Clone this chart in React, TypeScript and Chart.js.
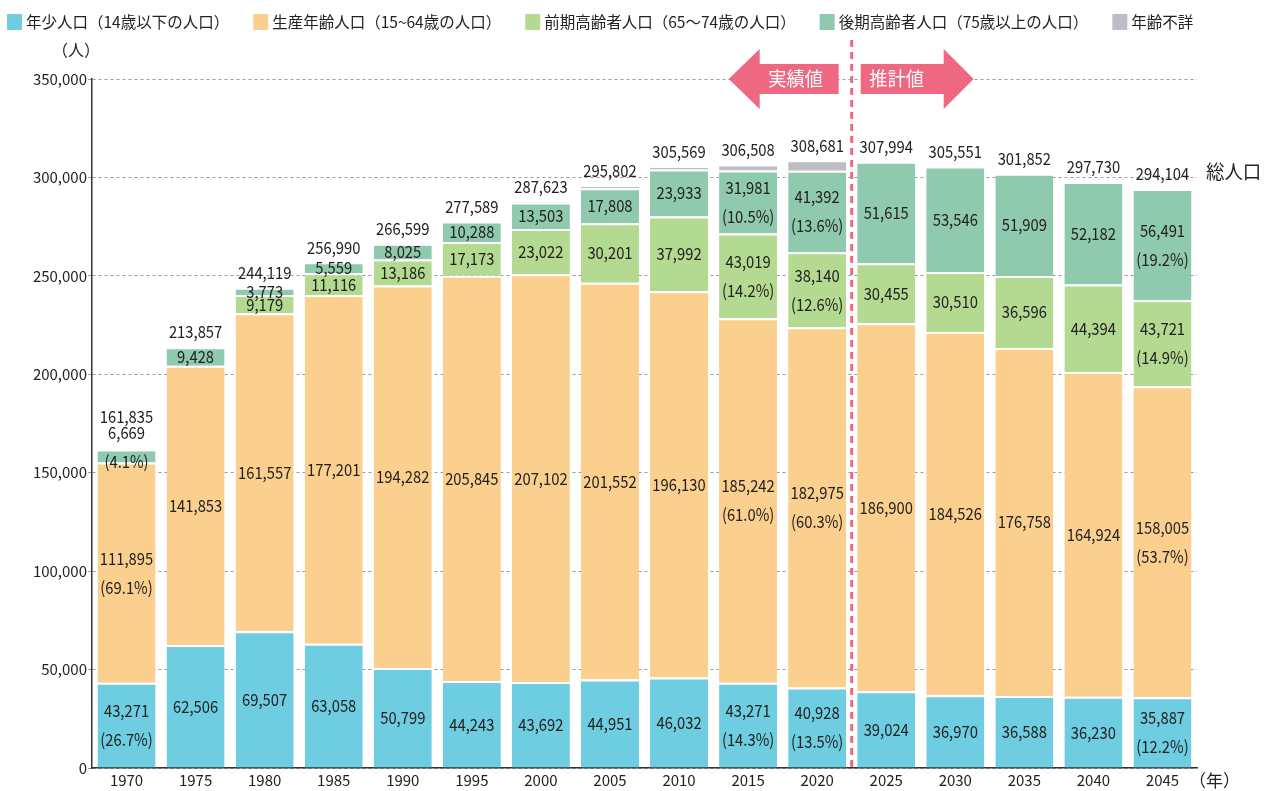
import { useEffect, useRef } from 'react';
import { Chart, registerables } from 'chart.js';

Chart.register(...registerables);

const years = ['1970', '1975', '1980', '1985', '1990', '1995', '2000', '2005', '2010', '2015', '2020', '2025', '2030', '2035', '2040', '2045'];
const young = [43271, 62506, 69507, 63058, 50799, 44243, 43692, 44951, 46032, 43271, 40928, 39024, 36970, 36588, 36230, 35887];
const working = [111895, 141853, 161557, 177201, 194282, 205845, 207102, 201552, 196130, 185242, 182975, 186900, 184526, 176758, 164924, 158005];
const earlyElderly = [0, 0, 9179, 11116, 13186, 17173, 23022, 30201, 37992, 43019, 38140, 30455, 30510, 36596, 44394, 43721];
const lateElderly = [6669, 9428, 3773, 5559, 8025, 10288, 13503, 17808, 23933, 31981, 41392, 51615, 53546, 51909, 52182, 56491];
const unknownAge = [0, 70, 103, 56, 307, 40, 304, 1290, 1482, 2995, 5246, 0, 0, 0, 0, 0];
const totals = [161835, 213857, 244119, 256990, 266599, 277589, 287623, 295802, 305569, 306508, 308681, 307994, 305551, 301852, 297730, 294104];

const youngPct = ['26.7%', null, null, null, null, null, null, null, null, '14.3%', '13.5%', null, null, null, null, '12.2%'];
const workingPct = ['69.1%', null, null, null, null, null, null, null, null, '61.0%', '60.3%', null, null, null, null, '53.7%'];
const earlyPct = [null, null, null, null, null, null, null, null, null, '14.2%', '12.6%', null, null, null, null, '14.9%'];
const latePct = ['4.1%', null, null, null, null, null, null, null, null, '10.5%', '13.6%', null, null, null, null, '19.2%'];

const seriesNames = [
  '年少人口（14歳以下の人口）',
  '生産年齢人口（15~64歳の人口）',
  '前期高齢者人口（65〜74歳の人口）',
  '後期高齢者人口（75歳以上の人口）',
  '年齢不詳',
];
const colors = ['#6ECDE0', '#FBCF8E', '#B4D991', '#8FC9AE', '#BDBDC3'];
const PINK = '#EE6882';
const FONT = '"Noto Sans CJK JP", "Noto Sans", sans-serif';
const TEXT = '#222';

const fmt = (v: number) => v.toLocaleString('en-US');

function drawText(ctx: CanvasRenderingContext2D, text: string, x: number, y: number, px: number, squeeze = 1) {
  ctx.font = `${px}px ${FONT}`;
  const w = ctx.measureText(text).width;
  ctx.fillText(text, x, y, w * squeeze);
}

const segLabels = {
  id: 'segLabels',
  afterDatasetsDraw(chart: any) {
    const ctx = chart.ctx as CanvasRenderingContext2D;
    const pctSets = [youngPct, workingPct, earlyPct, latePct];
    const lineH = 29;
    ctx.save();
    ctx.fillStyle = TEXT;
    ctx.textAlign = 'center';
    ctx.textBaseline = 'middle';
    for (let i = 0; i < years.length; i++) {
      let topMost = Infinity;
      let barTop = Infinity;
      let x = 0;
      chart.data.datasets.forEach((ds: any, d: number) => {
        const el = chart.getDatasetMeta(d).data[i];
        const v = ds.data[i];
        x = el.x;
        if (!v) return;
        barTop = Math.min(barTop, el.y);
        if (d > 3) return;
        const lines = [fmt(v)];
        const p = pctSets[d][i];
        if (p) lines.push(`(${p})`);
        const h = el.base - el.y;
        const cy = (el.y + el.base) / 2;
        let firstY = cy - ((lines.length - 1) * lineH) / 2;
        if (h < lines.length * lineH && lines.length > 1) firstY = cy - (lines.length - 1) * lineH + 6;
        lines.forEach((t, k) => drawText(ctx, t, el.x, firstY + k * lineH, 17, 0.87));
        topMost = Math.min(topMost, firstY);
      });
      const ty = Math.min(barTop - 15, topMost - 16);
      drawText(ctx, fmt(totals[i]), x, ty, 17, 0.87);
    }
    ctx.restore();
  },
};

const decorations = {
  id: 'decorations',
  afterDraw(chart: any) {
    const ctx = chart.ctx as CanvasRenderingContext2D;
    const xs = chart.scales.x;
    const area = chart.chartArea;
    const lx = (xs.getPixelForValue(10) + xs.getPixelForValue(11)) / 2;
    const cy = area.top;
    ctx.save();

    // legend
    ctx.textBaseline = 'middle';
    ctx.textAlign = 'left';
    ctx.font = `15.5px ${FONT}`;
    let lxPos = 7;
    seriesNames.forEach((name, k) => {
      ctx.fillStyle = colors[k];
      ctx.fillRect(lxPos, 14, 15, 16);
      ctx.fillStyle = TEXT;
      ctx.fillText(name, lxPos + 19, 22);
      lxPos += 19 + ctx.measureText(name).width + 24;
    });

    // divider
    ctx.strokeStyle = PINK;
    ctx.lineWidth = 3;
    ctx.setLineDash([7, 5]);
    ctx.beginPath();
    ctx.moveTo(lx, 40);
    ctx.lineTo(lx, area.bottom);
    ctx.stroke();
    ctx.setLineDash([]);

    // arrows
    ctx.fillStyle = PINK;
    ctx.beginPath();
    ctx.moveTo(lx - 123, cy);
    ctx.lineTo(lx - 92, cy - 30);
    ctx.lineTo(lx - 92, cy - 15);
    ctx.lineTo(lx - 13, cy - 15);
    ctx.lineTo(lx - 13, cy + 15);
    ctx.lineTo(lx - 92, cy + 15);
    ctx.lineTo(lx - 92, cy + 30);
    ctx.closePath();
    ctx.fill();
    ctx.beginPath();
    ctx.moveTo(lx + 122, cy);
    ctx.lineTo(lx + 92, cy - 30);
    ctx.lineTo(lx + 92, cy - 15);
    ctx.lineTo(lx + 9, cy - 15);
    ctx.lineTo(lx + 9, cy + 15);
    ctx.lineTo(lx + 92, cy + 15);
    ctx.lineTo(lx + 92, cy + 30);
    ctx.closePath();
    ctx.fill();
    ctx.fillStyle = '#fff';
    ctx.textAlign = 'center';
    drawText(ctx, '実績値', lx - 56, cy, 19, 0.96);
    drawText(ctx, '推計値', lx + 45, cy, 19, 0.96);

    // axis titles and side label
    ctx.fillStyle = TEXT;
    ctx.textAlign = 'left';
    drawText(ctx, '（人）', 52, 50, 16);
    drawText(ctx, '総人口', 1206, 172, 19, 0.97);
    drawText(ctx, '（年）', 1189, 781, 17);
    ctx.restore();
  },
};

export default function App() {
  const ref = useRef<HTMLCanvasElement>(null);
  useEffect(() => {
    const series = [young, working, earlyElderly, lateElderly, unknownAge];
    const chart = new Chart(ref.current!, {
      type: 'bar',
      data: {
        labels: years,
        datasets: series.map((data, k) => ({
          label: seriesNames[k],
          data,
          backgroundColor: colors[k],
          borderColor: '#ffffff',
          borderWidth: { top: 2, left: 0, right: 0, bottom: 0 },
          borderSkipped: false,
          barPercentage: 0.84,
          categoryPercentage: 1,
        })),
      },
      options: {
        animation: false,
        responsive: true,
        maintainAspectRatio: false,
        layout: { padding: { top: 79, left: 8, right: 74, bottom: 0 } },
        plugins: {
          legend: { display: false },
          tooltip: { enabled: false },
        },
        scales: {
          x: {
            stacked: true,
            grid: { display: false, drawTicks: false, tickLength: 0 },
            border: { display: true, color: '#333', width: 1.5 },
            ticks: { color: TEXT, font: { family: FONT, size: 15 }, padding: 3, maxRotation: 0 },
            afterFit: (s: any) => {
              s.height = 23;
            },
          },
          y: {
            stacked: true,
            min: 0,
            max: 350000,
            grid: { color: '#9a9a9a', lineWidth: 1, tickLength: 4, drawTicks: true },
            border: { display: true, color: '#333', width: 1.5, dash: [3, 3] },
            ticks: {
              stepSize: 50000,
              color: TEXT,
              padding: 1,
              font: { family: FONT, size: 15 },
              callback: (v: any) => fmt(Number(v)),
            },
            afterFit: (s: any) => {
              s.width = 84;
            },
          },
        },
      },
      plugins: [segLabels, decorations],
    });
    return () => chart.destroy();
  }, []);
  return (
    <div style={{ position: 'fixed', left: 0, top: 0, width: 1271, height: 791 }}>
      <canvas ref={ref} />
    </div>
  );
}
